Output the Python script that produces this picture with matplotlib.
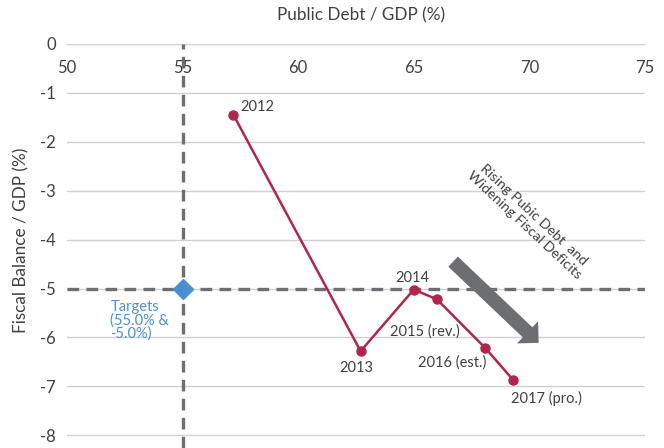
import matplotlib
matplotlib.use("Agg")
import matplotlib.pyplot as plt

plt.rcParams['font.family'] = ['Lato', 'DejaVu Sans']

# Data
years = ["2012", "2013", "2014", "2015 (rev.)", "2016 (est.)", "2017 (pro.)"]
debt = [57.2, 62.7, 65.0, 66.0, 68.1, 69.3]
balance = [-1.45, -6.28, -5.02, -5.22, -6.22, -6.87]
target_debt = 55.0
target_balance = -5.0
target_label = "Targets\n(55.0% &\n-5.0%)"
x_ticks = [50, 55, 60, 65, 70, 75]
y_ticks = [0, -1, -2, -3, -4, -5, -6, -7, -8]

# label offsets in points (style)
label_offsets = [(5, 6), (-3, -12), (-1, 8), (-9, -23), (-24, -10), (24, -13)]
label_ha = ['left', 'center', 'center', 'center', 'center', 'center']

RED = "#b3244c"
GRAY_TXT = "#404040"
DASH = "#6d6e71"
BLUE = "#4a8fd2"

fig = plt.figure(figsize=(6.64, 4.48), dpi=100)
ax = fig.add_axes([67/664, 0, 578/664, 1 - 44/448])
ax.set_xlim(50, 75)
ax.set_ylim(-8.26, 0)

for s in ax.spines.values():
    s.set_visible(False)

ax.set_yticks(y_ticks)
ax.set_xticks(x_ticks)
ax.grid(axis='y', color='#d0d0d0', linewidth=1.0)
ax.set_axisbelow(True)
ax.tick_params(axis='y', length=0, pad=8, labelsize=12, labelcolor=GRAY_TXT)
ax.tick_params(axis='x', length=0, labeltop=True, labelbottom=False,
               pad=-23, labelsize=12, labelcolor=GRAY_TXT)
ax.set_yticklabels([str(v) for v in y_ticks])

ax.set_xlabel("Public Debt / GDP (%)", fontsize=12.3, color=GRAY_TXT)
ax.xaxis.set_label_position('top')
ax.xaxis.set_label_coords(294/578, 1 + 29/404)
ax.xaxis.label.set_va('center')
ax.set_ylabel("Fiscal Balance / GDP (%)", fontsize=12.3, color=GRAY_TXT)
ax.yaxis.set_label_coords(-46/578, 0.515)
ax.yaxis.label.set_va('center')

# target dashed lines
ax.axvline(target_debt, color=DASH, linewidth=2.4, dashes=(3.5, 2.2), zorder=2)
ax.axhline(target_balance, color=DASH, linewidth=2.4, dashes=(3.5, 2.2), zorder=2)
ax.plot([target_debt], [target_balance], marker='D', markersize=10,
        color=BLUE, linestyle='none', zorder=4)
ax.annotate(target_label, xy=(target_debt, target_balance), xytext=(-52, -8),
            textcoords='offset points', ha='left', va='top', fontsize=10.5,
            color=BLUE, linespacing=0.95, multialignment='left')

# data series
ax.plot(debt, balance, color=RED, linewidth=1.8, marker='o', markersize=6.5,
        zorder=5)
for x, y, lab, off, ha in zip(debt, balance, years, label_offsets, label_ha):
    ax.annotate(lab, xy=(x, y), xytext=off, textcoords='offset points',
                ha=ha, va='center', fontsize=10.5, color=GRAY_TXT)

# trend arrow
ax.annotate('', xy=(70.4, -6.11), xytext=(66.7, -4.45),
            arrowprops=dict(arrowstyle='simple,head_length=11,head_width=22,tail_width=10',
                            mutation_scale=1, color=DASH, shrinkA=0, shrinkB=0,
                            linewidth=0))
ax.annotate("Rising Pubic Debt  and\nWidening Fiscal Deficits", xy=(70.0, -3.6),
            ha='center', va='center', rotation=-43, rotation_mode='anchor',
            fontsize=10.3, color=GRAY_TXT, multialignment='center', linespacing=1.15)

fig.savefig("out.png", dpi=100)
